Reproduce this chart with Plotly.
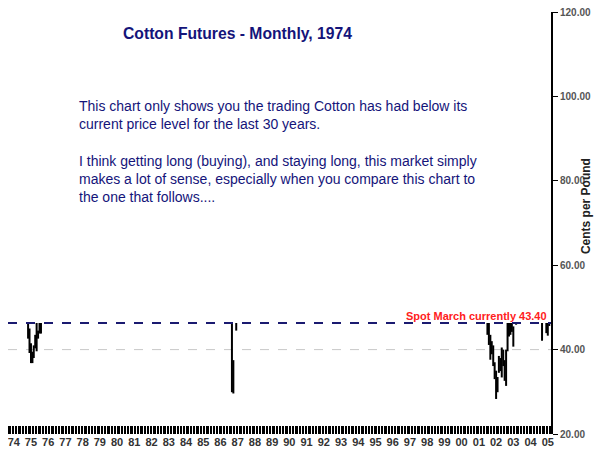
import plotly.graph_objects as go

# monthly bars that traded below the current price level (low, high in cents/lb)
months = ["1974-11", "1974-12", "1975-01", "1975-02", "1975-03", "1975-04", "1975-05", "1975-06", "1975-07", "1975-08",
          "1986-09", "1986-10", "1986-12",
          "2001-07", "2001-08", "2001-09", "2001-10", "2001-11", "2001-12", "2002-01", "2002-02", "2002-03",
          "2002-04", "2002-05", "2002-06", "2002-07", "2002-08", "2002-09", "2002-10", "2002-11", "2002-12",
          "2003-01", "2003-03", "2004-09", "2004-12", "2005-01", "2005-02"]
lows = [42.6, 39.2, 36.8, 36.8, 38.0, 40.3, 39.6, 42.6, 43.8, 43.8,
        29.9, 29.6, 44.5,
        43.5, 41.1, 37.6, 38.9, 36.1, 33.0, 28.3, 29.9, 34.5,
        34.9, 33.4, 36.1, 32.6, 31.4, 39.6, 43.1, 43.5, 44.2,
        40.7, 45.9, 42.1, 43.9, 43.3, 45.6]
highs = [46.3, 45.0, 41.5, 39.5, 41.0, 43.5, 46.3, 44.5, 46.3, 46.3,
         46.3, 37.5, 46.3,
         46.3, 46.3, 43.5, 42.0, 41.0, 37.0, 35.0, 33.5, 38.5,
         38.0, 40.5, 40.0, 37.5, 40.0, 46.3, 46.3, 46.3, 46.3,
         45.5, 46.3, 46.3, 46.3, 46.3, 46.3]

spot_level = 46.3
year_ticks = [str(y) for y in range(1974, 2006)]
year_labels = [y[2:] for y in year_ticks]
price_ticks = [20, 40, 60, 80, 100, 120]

xs, ys = [], []
for m, lo, hi in zip(months, lows, highs):
    xs += [m + "-01", m + "-01", None]
    ys += [lo, hi, None]

fig = go.Figure()
fig.add_trace(go.Scatter(x=xs, y=ys, mode="lines", line=dict(color="black", width=2),
                         showlegend=False, hoverinfo="skip"))

# reference lines
fig.add_shape(type="line", xref="paper", x0=0.0, x1=1, y0=40, y1=40,
              line=dict(color="#c8c8c8", width=1, dash="dash"), layer="below")
fig.add_shape(type="line", xref="paper", x0=0.0, x1=1, y0=spot_level, y1=spot_level,
              line=dict(color="#1a1a70", width=2, dash="dash"))

navy = "#14147a"
fig.add_annotation(text="<b>Cotton Futures - Monthly, 1974</b>", xref="paper", yref="paper",
                   x=0.422, y=0.975, showarrow=False, font=dict(size=15.7, color=navy, family="Arial"))
body = ("This chart only shows you the trading Cotton has had below its<br>"
        "current price level for the last 30 years.<br><br>"
        "I think getting long (buying), and staying long, this market simply<br>"
        "makes a lot of sense, especially when you compare this chart to<br>"
        "the one that follows....")
fig.add_annotation(text=body, xref="paper", yref="paper", x=0.127, y=0.802, xanchor="left", yanchor="top",
                   align="left", showarrow=False, font=dict(size=14, color=navy, family="Arial"))
fig.add_annotation(text="<b>Spot March currently 43.40</b>", xref="paper", yref="y", x=0.997, y=spot_level,
                   xanchor="right", yanchor="bottom", showarrow=False, yshift=-1,
                   font=dict(size=11, color="#ff2020", family="Arial"))
fig.add_annotation(text="<b>Cents per Pound</b>", xref="paper", yref="paper", x=1, xshift=44, y=0.54,
                   textangle=-90, showarrow=False, font=dict(size=12, color="#222", family="Arial"))

fig.update_layout(
    width=595, height=446,
    margin=dict(l=0, r=52, t=4, b=20),
    plot_bgcolor="white", paper_bgcolor="white",
    font=dict(family="Arial", color="#333"),
    xaxis=dict(range=["1973-09-01", "2005-03-10"], tickvals=[y + "-01-01" for y in year_ticks],
               ticktext=["<b>%s</b>" % t for t in year_labels], ticks="", showgrid=False,
               zeroline=False, tickfont=dict(size=11, color="#333"), ticklabeloverflow="allow",
               automargin=False,
               minor=dict(dtick="M1", tick0="1974-01-01", ticks="inside", ticklen=8, tickwidth=1.2,
                          tickcolor="black", showgrid=False)),
    yaxis=dict(range=[20, 120], side="right", tickvals=price_ticks,
               ticktext=["<b>%.2f</b>" % v for v in price_ticks],
               ticks="outside", ticklen=5, tickcolor="black", showline=True, linecolor="black",
               linewidth=2, showgrid=False, zeroline=False, tickfont=dict(size=10, color="#555"),
               ticklabeloverflow="allow", automargin=False),
)

fig.write_html("out.html")
